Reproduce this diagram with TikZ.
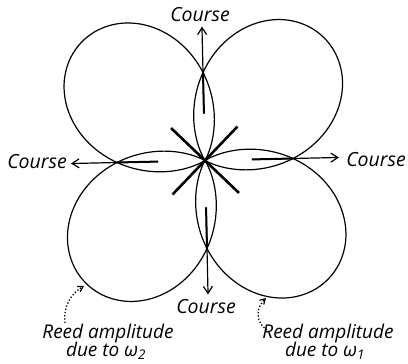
\documentclass[tikz,border=0pt]{standalone}
\usepackage{fontspec}
\setmainfont{Open Sans}
\usetikzlibrary{arrows.meta}
\begin{document}
\begin{tikzpicture}[x=1pt,y=-1pt,
  lobe/.style={line width=1.2pt},
  starline/.style={line width=2.6pt},
  innerline/.style={line width=2pt},
  coursearrow/.style={line width=1.2pt,-{Straight Barb[length=7pt,width=9pt,line width=1.2pt]}},
  dotarrow/.style={line width=1.3pt,dotted,-{Straight Barb[length=5pt,width=6pt,line width=1.2pt]}},
  lbl/.style={font=\fontsize{19.5}{22}\selectfont\itshape,inner sep=0pt,anchor=base},
  lblb/.style={font=\fontsize{19}{22}\selectfont\itshape,inner sep=0pt,anchor=base}]
\useasboundingbox (0,0) rectangle (408,364);
\begin{scope}[shift={(205,160.5)},rotate=1.3]
  \foreach \a in {45,135,225,315}
    \draw[lobe] plot[domain=-75:75,samples=151,variable=\t]
      ({171*pow(max(abs(cos(1.2*\t)),0.00001),1.25)*cos(\t+\a)},
       {171*pow(max(abs(cos(1.2*\t)),0.00001),1.25)*sin(\t+\a)});
  % star
  \coordinate (s1) at (-135:47);
  \coordinate (s2) at (45:47);
  \coordinate (s3) at (-45:47);
  \coordinate (s4) at (135:47);
  \draw[starline] (s1) -- (s2);
  \draw[starline] (s3) -- (s4);
  % course arrows
  \foreach \d/\n in {-90/t,0/r,180/l,90/b}{
    \coordinate (\n i) at (\d:47);
    \coordinate (\n x) at (\d:88);
    \coordinate (\n t) at (\d:134);
  }
  \foreach \n in {t,r,l,b}{
    \draw[coursearrow] (\n i) -- (\n t);
    \draw[innerline] (\n i) -- (\n x);
  }
\end{scope}
\node[lbl] (ct) at (200,22) {Course};
\node[lbl] (cl) at (37,168) {Course};
\node[lbl] (cr) at (376,166) {Course};
\node[lbl] (cb) at (206,313) {Course};
\node[lblb] (r2) at (108,338) {Reed amplitude};
\node[lblb] (d2) at (106,356) {due to ω\textsubscript{2}};
\node[lblb] (r1) at (328,338) {Reed amplitude};
\node[lblb] (d1) at (325,356) {due to ω\textsubscript{1}};
\coordinate (a2s) at (65,323);
\coordinate (a2e) at (84,286);
\coordinate (a1s) at (267,330);
\coordinate (a1e) at (266,298);
\draw[dotarrow] (a2s) .. controls (63,305) and (72,293) .. (a2e);
\draw[dotarrow] (a1s) .. controls (255,322) and (256,308) .. (a1e);
\end{tikzpicture}
\end{document}
